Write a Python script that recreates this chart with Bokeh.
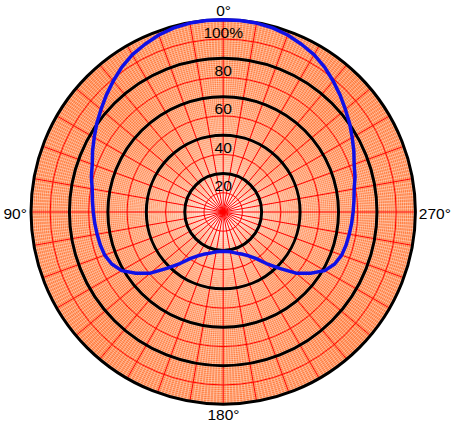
import numpy as np
from bokeh.plotting import figure
from bokeh.models import Range1d
from bokeh.embed import file_html
from bokeh.resources import INLINE
from bokeh.core.properties import value

# ---- data ----
angles_deg = [0, 5, 10, 15, 20, 25, 30, 35, 40, 45, 50, 55, 60, 65, 70, 75, 80, 85,
              90, 95, 100, 105, 110, 115, 120, 125, 130, 135, 140, 145, 150, 155, 160, 165,
              170, 175, 180, 185, 190, 195, 200, 205, 210, 215, 220, 225, 230, 235, 240,
              245, 250, 255, 260, 265, 270, 275, 280, 285, 290, 295, 300, 305, 310, 315,
              320, 325, 330, 335, 340, 345, 350, 355, 360]
response_pct = [100, 100, 99.8, 99.2, 98, 96.3, 94.5, 92, 89, 86, 83, 80.3, 77.5, 75,
                72.5, 71, 69.2, 68.3, 67.6, 67.1, 66.6, 66.2, 65.6, 64, 61, 55.5, 49.5,
                41.5, 35, 29.5, 26.3, 24.3, 23, 21.9, 21, 20.6, 20.4, 20.6, 21, 21.9, 23,
                24.3, 26.3, 29.5, 35, 41.5, 49.5, 55.5, 61, 64, 65.6, 66.2, 66.6, 67.1,
                67.6, 68.3, 69.2, 71, 72.5, 75, 77.5, 80.3, 83, 86, 89, 92, 94.5, 96.3,
                98, 99.2, 99.8, 100, 100]
ring_levels = [20, 40, 60, 80, 100]
ring_labels = ["20", "40", "60", "80", "100%"]
minor_ring_levels = [10, 30, 50, 70, 90]
angle_labels = ["0°", "90°", "180°", "270°"]

# ---- geometry of the page ----
W, H = 454, 424
PX = 1.922             # pixels per percent
CX, CY = 222.7, 211.5  # centre in figure pixels (from top-left)
x0, x1 = -CX / PX, (W - CX) / PX
y1, y0 = CY / PX, -(H - CY) / PX


def dx(px):
    return (px - CX) / PX


def dy(py):
    return (CY - py) / PX


p = figure(width=W, height=H, output_backend="svg", toolbar_location=None,
           x_range=Range1d(x0, x1), y_range=Range1d(y0, y1), min_border=0)
p.axis.visible = False
p.grid.visible = False
p.outline_line_color = None
p.background_fill_color = "white"

# orange disk
p.circle(x=[0], y=[0], radius=100, fill_color="#FF7A3A", line_color=None)

# fine white grid: 1 degree spokes, 1 percent rings
fa = np.deg2rad(np.arange(0, 360, 1))
p.multi_line(xs=[[0, -100 * np.sin(a)] for a in fa], ys=[[0, 100 * np.cos(a)] for a in fa],
             line_color="white", line_width=0.7, line_alpha=0.55)
fr = [r for r in range(1, 100)]
p.circle(x=[0] * len(fr), y=[0] * len(fr), radius=fr, fill_color=None,
         line_color="white", line_width=0.7, line_alpha=0.55)

# red grid: 10 degree spokes, odd-tens rings
ra = np.deg2rad(np.arange(0, 360, 10))
p.multi_line(xs=[[0, -100 * np.sin(a)] for a in ra], ys=[[0, 100 * np.cos(a)] for a in ra],
             line_color="red", line_width=1)
p.circle(x=[0] * len(minor_ring_levels), y=[0] * len(minor_ring_levels),
         radius=minor_ring_levels, fill_color=None, line_color="red", line_width=1)

# black rings
p.circle(x=[0] * len(ring_levels), y=[0] * len(ring_levels), radius=ring_levels,
         fill_color=None, line_color="black", line_width=3)

# response curve
th = np.deg2rad(np.array(angles_deg))
r = np.array(response_pct)
p.line(-r * np.sin(th), r * np.cos(th), line_color="#1010E6", line_width=3.5)

# ring labels
p.text(x=[0] * len(ring_levels), y=[lv - 6.5 for lv in ring_levels], text=ring_labels,
       text_align="center", text_baseline="middle", text_color="black",
       text_font=value("Liberation Sans"), text_font_size="15.5px")

# angle labels
p.text(x=[dx(223.1), dx(2.9), dx(223.0), dx(418.3)],
       y=[dy(10.0), dy(213.0), dy(413.5), dy(213.0)], text=angle_labels,
       text_align=["center", "left", "center", "left"],
       text_baseline="middle", text_color="black",
       text_font=value("Liberation Sans"), text_font_size="15.5px")

open("out.html", "w").write(file_html(p, INLINE))
